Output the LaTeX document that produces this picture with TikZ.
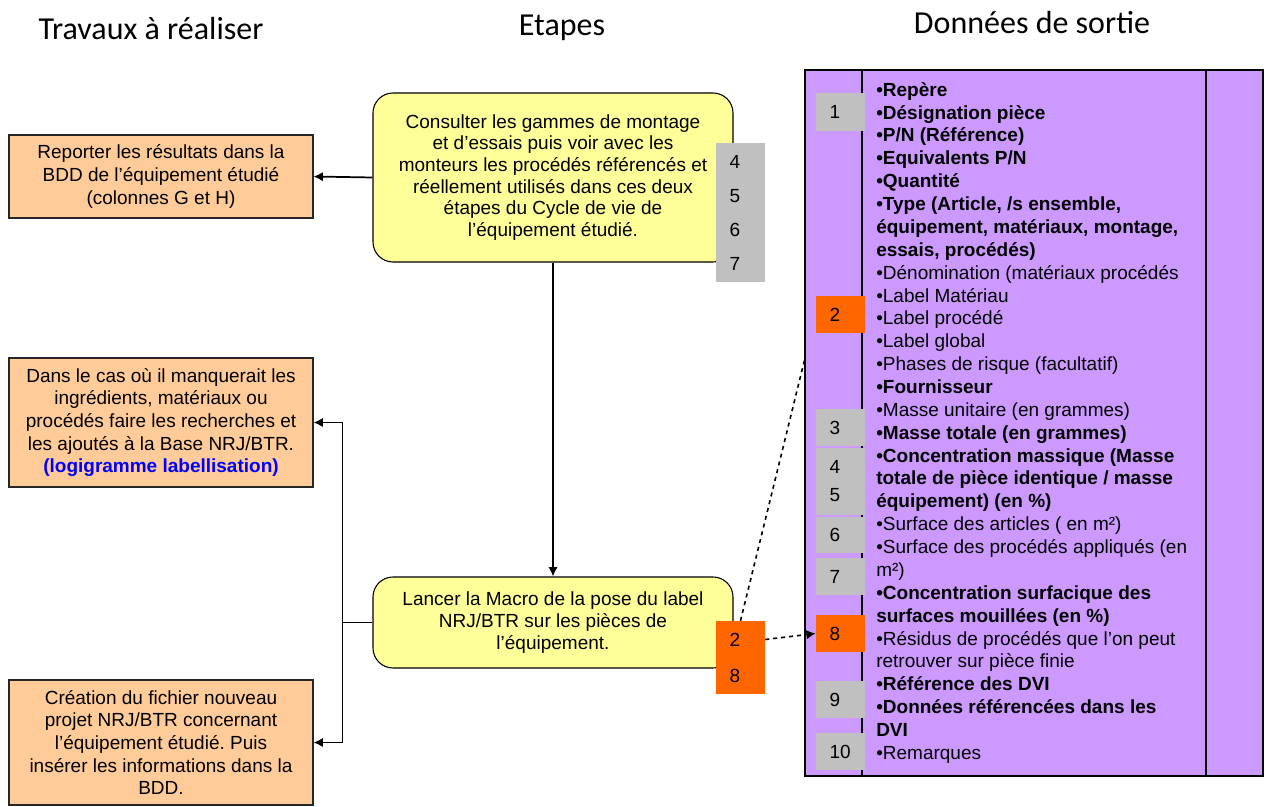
\documentclass[tikz,border=0pt]{standalone}
\usepackage{fontspec}
\setmainfont{Liberation Sans}
\newfontfamily\headfont{Carlito}
\usetikzlibrary{arrows.meta}
\definecolor{peach}{HTML}{FFCC99}
\definecolor{paleyellow}{HTML}{FFFF99}
\definecolor{panelpurple}{HTML}{CC99FF}
\definecolor{labelgray}{HTML}{C0C0C0}
\definecolor{labelorange}{HTML}{FF6600}
\definecolor{linkblue}{HTML}{0000FF}
\frenchspacing
\begin{document}
\begin{tikzpicture}[x=0.75pt,y=-0.75pt,
  font=\fontsize{14.25pt}{16.9pt}\selectfont,
  head/.style={font=\headfont\fontsize{24pt}{29pt}\selectfont},
  task/.style={draw=black!85, fill=peach, line width=0.8pt, minimum width=228pt, align=center, inner sep=0pt},
  stage/.style={draw=black, fill=paleyellow, rounded corners=15pt, line width=0.8pt, minimum width=270pt, align=center, inner sep=0pt, font=\fontsize{14.25pt}{16.25pt}\selectfont},
  num/.style={minimum width=36.75pt, text width=16.5pt, align=left, inner sep=0pt},
  grey/.style={num, fill=labelgray},
  hot/.style={num, fill=labelorange},
  arr/.style={-{Latex[length=7pt,width=7pt]}, line width=1.3pt},
  dashlink/.style={dashed, line width=1.2pt}
]
\useasboundingbox (0,0) rectangle (1266,806);
% column headings
\node[head] (hwork) at (151,29) {Travaux à réaliser};
\node[head] (hstep) at (562,28) {Etapes};
\node[head] (hout)  at (1032,23) {Données de sortie};
% travaux
\node[task, minimum height=62.25pt] (report) at (161,176.5) {Reporter les résultats dans la\\BDD de l’équipement étudié\\(colonnes G et H)};
\node[task, minimum height=96.75pt] (missing) at (161,422.5) {Dans le cas où il manquerait les\\ingrédients, matériaux ou\\procédés faire les recherches et\\les ajoutés à la Base NRJ/BTR.\\{\color{linkblue}\bfseries (logigramme labellisation)}};
\node[task, minimum height=93.75pt] (create) at (161,742.5) {Création du fichier nouveau\\projet NRJ/BTR concernant\\l’équipement étudié. Puis\\insérer les informations dans la\\BDD.};
% etapes
\node[stage, minimum height=126.75pt] (consult) at (553,177.5) {Consulter les gammes de montage\\et d’essais puis voir avec les\\monteurs les procédés référencés et\\réellement utilisés dans ces deux\\étapes du Cycle de vie de\\l’équipement étudié.};
\node[stage, minimum height=68.25pt] (macro) at (553,622.5) {Lancer la Macro de la pose du label\\NRJ/BTR sur les pièces de\\l’équipement.};
\node[grey, minimum height=104.25pt, font=\fontsize{14.25pt}{25.5pt}\selectfont] (ref47) at (740.5,212.5) {4\\5\\6\\7};
\node[hot, minimum height=54.75pt, font=\fontsize{14.25pt}{27pt}\selectfont] (ref28) at (740.5,657.5) {2\\8};
% donnees de sortie
\node[draw=black, line width=1.5pt, fill=panelpurple, minimum width=343.5pt, minimum height=529.5pt, inner sep=0pt] (panel) at (1034,423) {};
\draw[line width=1.1pt] ([xshift=43.5pt]panel.north west) -- ([xshift=43.5pt]panel.south west);
\draw[line width=1.1pt] ([xshift=-43.5pt]panel.north east) -- ([xshift=-43.5pt]panel.south east);
\node[grey, minimum height=28.5pt]  (r1)  at (840.5,112)   {1};
\node[hot,  minimum height=27.75pt] (r2)  at (840.5,314.5) {2};
\node[grey, minimum height=27.75pt] (r3)  at (840.5,427.5) {3};
\node[grey, minimum height=50.25pt, font=\fontsize{14.25pt}{21pt}\selectfont] (r45) at (840.5,481.5) {4\\5};
\node[grey, minimum height=27pt]    (r6)  at (840.5,535)   {6};
\node[grey, minimum height=27.75pt] (r7)  at (840.5,576.5) {7};
\node[hot,  minimum height=27.75pt] (r8)  at (840.5,633.5) {8};
\node[grey, minimum height=27.75pt] (r9)  at (840.5,699.5) {9};
\node[grey, minimum height=27.75pt] (r10) at (840.5,751.5) {10};
\node[anchor=north west, align=left, inner sep=0pt, font=\fontsize{14.25pt}{17.15pt}\selectfont] (fields) at (876,82) {%
{\bfseries •Repère}\\
{\bfseries •Désignation pièce}\\
{\bfseries •P/N (Référence)}\\
{\bfseries •Equivalents P/N}\\
{\bfseries •Quantité}\\
{\bfseries •Type (Article, /s ensemble,}\\
{\bfseries équipement, matériaux, montage,}\\
{\bfseries essais, procédés)}\\
•Dénomination (matériaux procédés\\
•Label Matériau\\
•Label procédé\\
•Label global\\
•Phases de risque (facultatif)\\
{\bfseries •Fournisseur}\\
•Masse unitaire (en grammes)\\
{\bfseries •Masse totale (en grammes)}\\
{\bfseries •Concentration massique (Masse}\\
{\bfseries totale de pièce identique / masse}\\
{\bfseries équipement) (en \%)}\\
•Surface des articles ( en m²)\\
•Surface des procédés appliqués (en\\
m²)\\
{\bfseries •Concentration surfacique des}\\
{\bfseries surfaces mouillées (en \%)}\\
•Résidus de procédés que l’on peut\\
retrouver sur pièce finie\\
{\bfseries •Référence des DVI}\\
{\bfseries •Données référencées dans les}\\
{\bfseries DVI}\\
•Remarques};
% connectors
\coordinate (lblpt) at (805,358);
\draw[arr] (consult.west) -- (report.east);
\draw[arr] (consult) -- (macro);
\draw[arr] (macro.west) -- ++(-30,0) |- (missing.east);
\draw[arr] (macro.west) -- ++(-30,0) |- (create.east);
\draw[dashlink] (ref28.north) -- (lblpt);
\draw[dashlink, -{Latex[length=7pt,width=7pt]}] ([yshift=13.5pt]ref28.east) -- (r8.west);
\end{tikzpicture}
\end{document}
